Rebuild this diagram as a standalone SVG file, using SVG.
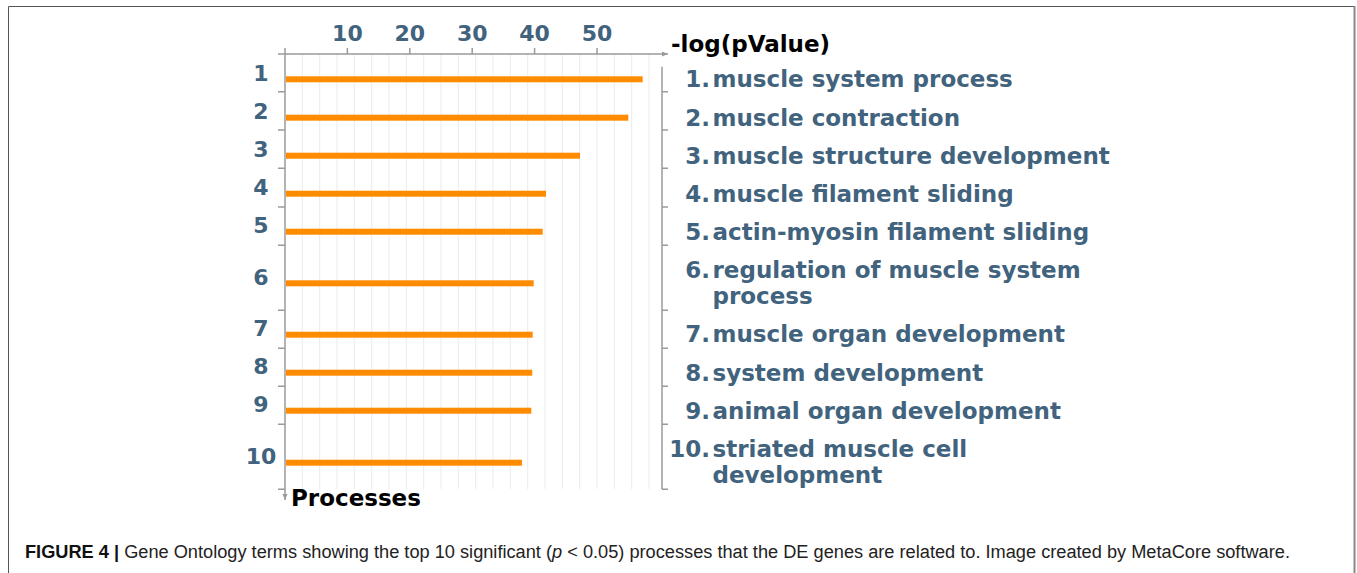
<svg xmlns="http://www.w3.org/2000/svg" width="1357" height="573" viewBox="0 0 1357 573">
<style>
.num{font-family:"DejaVu Sans",Verdana,sans-serif;font-weight:bold;font-size:22px;fill:#41637D}
.lbl{font-family:"DejaVu Sans",Verdana,sans-serif;font-weight:bold;font-size:23px;fill:#41637D}
.ttl{font-family:"DejaVu Sans",Verdana,sans-serif;font-weight:bold;font-size:23px;fill:#000}
.grid{stroke:#ebebeb;stroke-width:1}
.ax{stroke:#9a9a9a;stroke-width:1.5;fill:none}
.bar{fill:#FF8C00}
.cap{font-family:"Liberation Sans",Arial,sans-serif;font-size:18px;fill:#222}
</style>
<defs>
<marker id="arr" markerWidth="8" markerHeight="8" refX="6" refY="4" orient="auto" markerUnits="userSpaceOnUse">
<path d="M0,1.5 L6,4 L0,6.5 Z" fill="#9a9a9a"/>
</marker>
</defs>
<rect width="1357" height="573" fill="#fff"/>
<path d="M8.5,575 V6.5 H1354.5 V575" fill="none" stroke="#555" stroke-width="1"/>
<line x1="1354.5" y1="6" x2="1354.5" y2="575" stroke="#888" stroke-width="2"/>
<g id="grid">
<line class="grid" x1="302.3" y1="54" x2="302.3" y2="489"/>
<line class="grid" x1="319.7" y1="54" x2="319.7" y2="489"/>
<line class="grid" x1="337" y1="54" x2="337" y2="489"/>
<line class="grid" x1="354.3" y1="54" x2="354.3" y2="489"/>
<line class="grid" x1="371.7" y1="54" x2="371.7" y2="489"/>
<line class="grid" x1="389" y1="54" x2="389" y2="489"/>
<line class="grid" x1="406.3" y1="54" x2="406.3" y2="489"/>
<line class="grid" x1="423.7" y1="54" x2="423.7" y2="489"/>
<line class="grid" x1="441" y1="54" x2="441" y2="489"/>
<line class="grid" x1="458.3" y1="54" x2="458.3" y2="489"/>
<line class="grid" x1="475.7" y1="54" x2="475.7" y2="489"/>
<line class="grid" x1="493" y1="54" x2="493" y2="489"/>
<line class="grid" x1="510.3" y1="54" x2="510.3" y2="489"/>
<line class="grid" x1="527.7" y1="54" x2="527.7" y2="489"/>
<line class="grid" x1="545" y1="54" x2="545" y2="489"/>
<line class="grid" x1="562.3" y1="54" x2="562.3" y2="489"/>
<line class="grid" x1="579.7" y1="54" x2="579.7" y2="489"/>
<line class="grid" x1="597" y1="54" x2="597" y2="489"/>
<line class="grid" x1="614.3" y1="54" x2="614.3" y2="489"/>
<line class="grid" x1="631.7" y1="54" x2="631.7" y2="489"/>
<line class="grid" x1="649" y1="54" x2="649" y2="489"/>
</g>
<g id="axes">
<line class="ax" x1="278" y1="54" x2="668" y2="54" marker-end="url(#arr)"/>
<line class="ax" x1="285" y1="48" x2="285" y2="500" marker-end="url(#arr)"/>
<path class="ax" d="M347.4,48V54 M409.8,48V54 M472.2,48V54 M534.6,48V54 M597,48V54"/>
<path class="ax" d="M278,91.7H285 M278,130H285 M278,168.3H285 M278,207H285 M278,245.3H285 M278,310.3H285 M278,348.3H285 M278,386.3H285 M278,424.3H285 M278,489.3H285"/>
<path class="ax" d="M662,66.7V489.3 M662,91.7H668 M662,130H668 M662,168.3H668 M662,207H668 M662,245.3H668 M662,310.3H668 M662,348.3H668 M662,386.3H668 M662,424.3H668 M662,489.3H668"/>
</g>
<g id="xlabels" text-anchor="middle">
<text class="num" x="347.4" y="41">10</text>
<text class="num" x="409.8" y="41">20</text>
<text class="num" x="472.2" y="41">30</text>
<text class="num" x="534.6" y="41">40</text>
<text class="num" x="597" y="41">50</text>
</g>
<text class="ttl" x="671" y="52">-log(pValue)</text>
<text class="ttl" x="291" y="506">Processes</text>
<g id="bars">
<rect class="bar" x="286" y="76.3" width="356.7" height="6"/>
<rect class="bar" x="286" y="114.7" width="342.3" height="6"/>
<rect class="bar" x="286" y="152.7" width="294" height="6"/>
<rect class="bar" x="286" y="190.7" width="260" height="6"/>
<rect class="bar" x="286" y="228.7" width="256.7" height="6"/>
<rect class="bar" x="286" y="280.3" width="247.7" height="6"/>
<rect class="bar" x="286" y="331.7" width="246.7" height="6"/>
<rect class="bar" x="286" y="369.7" width="246.3" height="6"/>
<rect class="bar" x="286" y="407.7" width="245.3" height="6"/>
<rect class="bar" x="286" y="459.7" width="236" height="6"/>
</g>
<g id="ylabels" text-anchor="middle">
<text class="num" x="261" y="81">1</text>
<text class="num" x="261" y="119">2</text>
<text class="num" x="261" y="157">3</text>
<text class="num" x="261" y="195">4</text>
<text class="num" x="261" y="233">5</text>
<text class="num" x="261" y="284.5">6</text>
<text class="num" x="261" y="336">7</text>
<text class="num" x="261" y="374">8</text>
<text class="num" x="261" y="412">9</text>
<text class="num" x="261" y="464">10</text>
</g>
<g id="p1"><text class="lbl" x="710" y="87.3" text-anchor="end">1.</text><text class="lbl" x="712.5" y="87.3">muscle system process</text></g>
<g id="p2"><text class="lbl" x="710" y="125.7" text-anchor="end">2.</text><text class="lbl" x="712.5" y="125.7">muscle contraction</text></g>
<g id="p3"><text class="lbl" x="710" y="163.5" text-anchor="end">3.</text><text class="lbl" x="712.5" y="163.5">muscle structure development</text></g>
<g id="p4"><text class="lbl" x="710" y="201.7" text-anchor="end">4.</text><text class="lbl" x="712.5" y="201.7">muscle filament sliding</text></g>
<g id="p5"><text class="lbl" x="710" y="239.7" text-anchor="end">5.</text><text class="lbl" x="712.5" y="239.7">actin-myosin filament sliding</text></g>
<g id="p6"><text class="lbl" x="710" y="277.7" text-anchor="end">6.</text><text class="lbl" x="712.5" y="277.7">regulation of muscle system</text><text class="lbl" x="712.5" y="304.2">process</text></g>
<g id="p7"><text class="lbl" x="710" y="342.3" text-anchor="end">7.</text><text class="lbl" x="712.5" y="342.3">muscle organ development</text></g>
<g id="p8"><text class="lbl" x="710" y="380.7" text-anchor="end">8.</text><text class="lbl" x="712.5" y="380.7">system development</text></g>
<g id="p9"><text class="lbl" x="710" y="418.7" text-anchor="end">9.</text><text class="lbl" x="712.5" y="418.7">animal organ development</text></g>
<g id="p10"><text class="lbl" x="710" y="456.7" text-anchor="end">10.</text><text class="lbl" x="712.5" y="456.7">striated muscle cell</text><text class="lbl" x="712.5" y="483.2">development</text></g>
<text class="cap" x="25" y="558" textLength="1265" lengthAdjust="spacingAndGlyphs"><tspan font-weight="bold" fill="#111">FIGURE 4 |</tspan> Gene Ontology terms showing the top 10 significant (<tspan font-style="italic">p</tspan> &lt; 0.05) processes that the DE genes are related to. Image created by MetaCore software.</text>
</svg>
